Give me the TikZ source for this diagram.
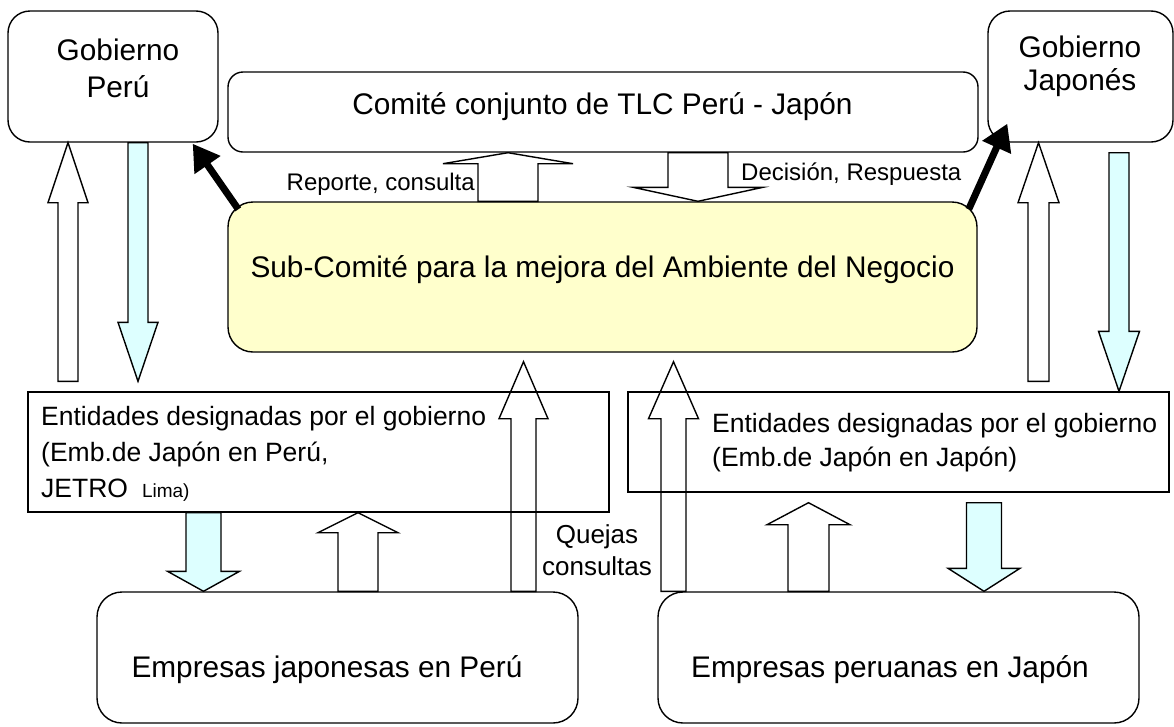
\documentclass[tikz,border=0pt]{standalone}
\usepackage{fontspec}
\setmainfont{Liberation Sans}
\usetikzlibrary{calc,positioning,arrows.meta}
\definecolor{lightcyan}{RGB}{221,255,255}
\definecolor{paleyellow}{RGB}{255,255,204}

% hollow block arrows: [style] x, tail, tip, shaft half, head half, head length
\newcommand{\blockup}[7][]{%
  \draw[blockarrow,#1] let \p3=(#2,0), \p1=(#3), \p2=(#4) in
    (\x3-#5pt,\y1) -- (\x3-#5pt,\y2-#7pt) -- (\x3-#6pt,\y2-#7pt) -- (\x3,\y2)
    -- (\x3+#6pt,\y2-#7pt) -- (\x3+#5pt,\y2-#7pt) -- (\x3+#5pt,\y1) -- cycle;}
\newcommand{\blockdown}[7][]{%
  \draw[blockarrow,#1] let \p3=(#2,0), \p1=(#3), \p2=(#4) in
    (\x3-#5pt,\y1) -- (\x3-#5pt,\y2+#7pt) -- (\x3-#6pt,\y2+#7pt) -- (\x3,\y2)
    -- (\x3+#6pt,\y2+#7pt) -- (\x3+#5pt,\y2+#7pt) -- (\x3+#5pt,\y1) -- cycle;}

\begin{document}
\begin{tikzpicture}[x=1pt, y=-1pt]
        \tikzstyle{box}=[draw, line width=1.4pt, rounded corners=22pt, inner sep=0pt]
        \tikzstyle{plainbox}=[draw, line width=1.4pt, inner sep=0pt]
        \tikzstyle{txt}=[inner sep=0pt, align=center, font=\fontsize{29.8}{35}\selectfont]
        \tikzstyle{small}=[inner sep=0pt, font=\fontsize{24}{28}\selectfont]
        \tikzstyle{blockarrow}=[line width=1.4pt, line join=miter]
        \tikzstyle{cyanfill}=[fill=lightcyan]
        \tikzstyle{fat}=[line width=7pt, -{Triangle[length=26pt,width=30pt]}]

        \useasboundingbox (0,0) rectangle (1174,726);

        % Governments and committees
        \node[box, minimum width=210pt, minimum height=131pt] (gp) at (113,76.5) {};
        \node[box, rounded corners=15pt, minimum width=750pt, minimum height=80pt] (com) at (603,112) {};
        \node[box, minimum width=185pt, minimum height=131pt] (gj) at (1080.5,76.5) {};
        \node[box, rounded corners=25pt, fill=paleyellow, minimum width=749pt, minimum height=150pt] (sub) at (602.5,277) {};

        % Designated entities
        \node[plainbox, minimum width=581pt, minimum height=120pt] (entL) at (318.5,452) {};
        \node[plainbox, minimum width=541pt, minimum height=100pt] (entR) at (898.5,442) {};

        % Companies
        \node[box, rounded corners=25pt, minimum width=481pt, minimum height=131pt] (empL) at (337.5,657.5) {};
        \node[box, rounded corners=25pt, minimum width=481pt, minimum height=131pt] (empR) at (898.5,657.5) {};

        % Texts (base = last line)
        \node[txt, font=\fontsize{29.8}{37}\selectfont, anchor=base] (gpText) at (118,97) {Gobierno\\Perú};
        \node[txt, font=\fontsize{29.8}{33}\selectfont, anchor=base] (gjText) at (1080,90) {Gobierno\\Japonés};
        \node[txt, anchor=base] (comText) at (602.5,114) {Comité conjunto de TLC Perú - Japón};
        \node[txt, anchor=base] (subText) at (602.5,277) {Sub-Comité para la mejora del Ambiente del Negocio};
        \node[txt, font=\fontsize{26.5}{36}\selectfont, align=left, anchor=base west] (entLText) at (41,497)
             {Entidades designadas por el gobierno\\(Emb.de Japón en Perú,\\JETRO\hspace{14pt}{\fontsize{19}{19}\selectfont Lima)}};
        \node[txt, font=\fontsize{26.5}{34}\selectfont, align=left, anchor=base west] (entRText) at (712,466)
             {Entidades designadas por el gobierno\\(Emb.de Japón en Japón)};
        \node[txt, anchor=base] (empLText) at (327,677) {Empresas japonesas en Perú};
        \node[txt, anchor=base] (empRText) at (890,677) {Empresas peruanas en Japón};
        \node[small, anchor=base east] (reporte) at (475,190) {Reporte, consulta};
        \node[small, anchor=base west] (decision) at (741,180) {Decisión, Respuesta};
        \node[txt, font=\fontsize{26}{32}\selectfont, anchor=base] (quejas) at (597,575) {Quejas\\consultas};

        % Block arrows between the levels
        \blockup{68}{$(entL.north)+(0,-10)$}{gp.south}{10}{20}{60}
        \blockdown[cyanfill]{138}{gp.south}{$(entL.north)+(0,-10)$}{10}{20}{59}
        \blockup{1038.5}{$(entR.north)+(0,-10)$}{gj.south}{10.5}{20.5}{60}
        \blockdown[cyanfill]{1119}{$(gj.south)+(0,10)$}{entR.north}{10}{20.5}{60}
        \blockup{508}{sub.north}{com.south}{30}{65}{11}
        \blockdown{698}{com.south}{sub.north}{30}{65}{14}
        \blockup{523.5}{empL.north}{$(sub.south)+(0,9)$}{12.5}{24.5}{57}
        \blockup{673.5}{empR.north}{$(sub.south)+(0,9)$}{12.5}{25}{57}
        \blockup{358}{empL.north}{entL.south}{20}{40}{20}
        \blockdown[cyanfill]{203.5}{entL.south}{empL.north}{17.5}{36}{20}
        \blockup{808.5}{empR.north}{$(entR.south)+(0,10)$}{20.5}{41.5}{22}
        \blockdown[cyanfill]{984}{$(entR.south)+(0,10)$}{empR.north}{17.5}{36}{23}

        % Sub-committee reports to both governments
        \draw[fat] ($(sub.north west)+(11,8)$) -- ($(gp.south east)+(-26,1)$);
        \draw[fat] ($(sub.north east)+(-9,8)$) -- ($(gj.south west)+(20,-19)$);
\end{tikzpicture}
\end{document}
